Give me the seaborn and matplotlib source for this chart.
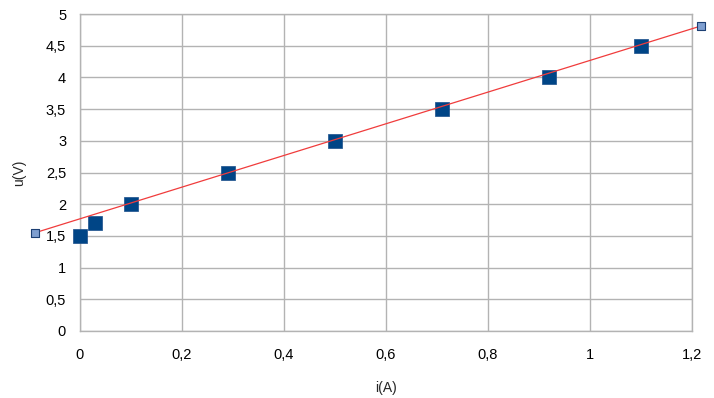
import pandas as pd
import matplotlib
matplotlib.use("Agg")
import matplotlib.pyplot as plt
import matplotlib.ticker as mticker
import seaborn as sns

# measured points
current = [0, 0.03, 0.1, 0.29, 0.5, 0.71, 0.92, 1.1]
voltage = [1.5, 1.7, 2.0, 2.5, 3.0, 3.5, 4.0, 4.5]

# fitted line end points (as drawn)
line_i = [-0.088, 1.217]
line_u = [1.55, 4.81]

x_ticks = [0, 0.2, 0.4, 0.6, 0.8, 1.0, 1.2]
y_ticks = [0, 0.5, 1, 1.5, 2, 2.5, 3, 3.5, 4, 4.5, 5]

sns.set_style("white")
plt.rcParams["font.family"] = ["Liberation Sans", "DejaVu Sans"]

df = pd.DataFrame({"i": current, "u": voltage})
df_line = pd.DataFrame({"i": line_i, "u": line_u})

fig = plt.figure(figsize=(7.14, 3.98), dpi=100)
ax = fig.add_axes([80 / 714, 1 - 331 / 398, 612 / 714, 317 / 398])

sns.scatterplot(data=df, x="i", y="u", ax=ax, marker="s", s=95,
                color="#004586", edgecolor="#1a4f8a", linewidth=0.5,
                clip_on=False, zorder=3)
sns.lineplot(data=df_line, x="i", y="u", ax=ax, color="#f03c3c", linewidth=0.9,
             clip_on=False, zorder=4)
sns.scatterplot(data=df_line, x="i", y="u", ax=ax, marker="s", s=40,
                color="#7f9fd0", edgecolor="#1c3f73", linewidth=0.8,
                clip_on=False, zorder=5)

ax.set_xlim(0, 1.2)
ax.set_ylim(0, 5)
ax.set_xticks(x_ticks)
ax.set_yticks(y_ticks)
fmt = mticker.FuncFormatter(lambda v, p: "{:g}".format(round(v, 2)).replace(".", ","))
ax.xaxis.set_major_formatter(fmt)
ax.yaxis.set_major_formatter(fmt)
ax.grid(True, color="#b3b3b3", linewidth=1)
ax.set_axisbelow(True)
for s in ax.spines.values():
    s.set_color("#b3b3b3")
    s.set_linewidth(1)
ax.tick_params(axis="both", length=6, width=1, color="#b3b3b3",
               labelsize=10.5, labelcolor="black", pad=6)
ax.tick_params(axis="y", pad=4)

ax.set_xlabel("i(A)", fontsize=10, labelpad=14)
ax.set_ylabel("u(V)", fontsize=10, labelpad=14)

fig.savefig("out.png", dpi=100)
